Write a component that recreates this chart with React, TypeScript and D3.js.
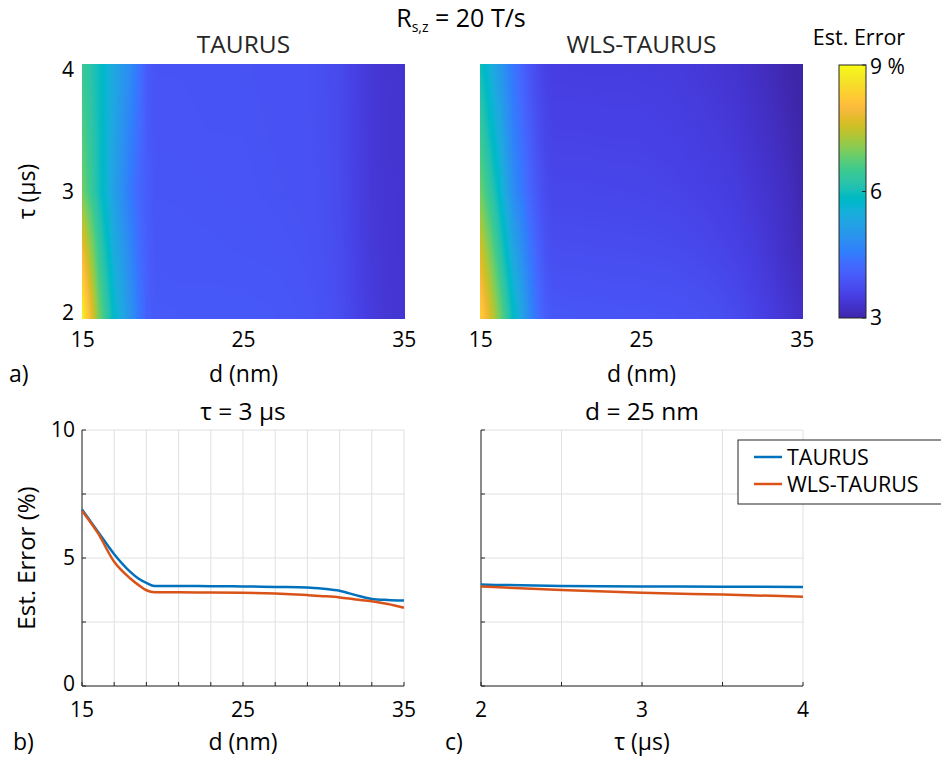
import React, { useMemo } from "react";
import * as d3 from "d3";

// Simulation grid: film thickness d (nm) and pulse duration tau (µs)
const D_GRID = [15, 16, 17, 18, 18.5, 19, 19.5, 21, 23, 25, 27, 29, 30, 31, 32, 33, 34, 35];
const TAU_GRID = [2, 2.5, 3, 3.5, 4];

// Estimated error (%) for each tau row over the d grid
const TAURUS_ERR = [
  [8.8, 6.9, 5.7, 4.9, 4.45, 4.08, 3.97, 3.96, 3.96, 3.96, 3.94, 3.9, 3.85, 3.76, 3.6, 3.45, 3.38, 3.35],
  [7.9, 6.45, 5.4, 4.7, 4.32, 4.05, 3.93, 3.92, 3.92, 3.91, 3.9, 3.87, 3.82, 3.74, 3.57, 3.42, 3.37, 3.34],
  [6.9, 6.02, 5.15, 4.46, 4.2, 4.03, 3.91, 3.91, 3.9, 3.89, 3.87, 3.85, 3.8, 3.72, 3.55, 3.4, 3.36, 3.34],
  [6.65, 5.98, 5.22, 4.6, 4.3, 4.0, 3.89, 3.89, 3.88, 3.88, 3.86, 3.84, 3.79, 3.71, 3.54, 3.4, 3.35, 3.33],
  [6.45, 5.95, 5.3, 4.75, 4.4, 3.98, 3.88, 3.88, 3.87, 3.87, 3.85, 3.83, 3.78, 3.7, 3.53, 3.39, 3.34, 3.32],
];
const WLS_ERR = [
  [8.3, 7.1, 5.85, 4.8, 4.35, 4.05, 3.93, 3.91, 3.9, 3.89, 3.87, 3.82, 3.77, 3.7, 3.6, 3.48, 3.37, 3.24],
  [7.6, 6.5, 5.35, 4.5, 4.15, 3.88, 3.78, 3.77, 3.76, 3.75, 3.73, 3.67, 3.62, 3.56, 3.47, 3.37, 3.25, 3.13],
  [6.85, 5.96, 4.85, 4.2, 3.95, 3.74, 3.66, 3.66, 3.65, 3.64, 3.61, 3.55, 3.51, 3.46, 3.38, 3.31, 3.2, 3.06],
  [6.4, 5.55, 4.62, 4.05, 3.82, 3.65, 3.58, 3.58, 3.57, 3.57, 3.53, 3.47, 3.43, 3.38, 3.3, 3.22, 3.12, 3.0],
  [6.0, 5.2, 4.45, 3.92, 3.72, 3.57, 3.51, 3.5, 3.5, 3.49, 3.46, 3.4, 3.36, 3.31, 3.23, 3.15, 3.05, 2.95],
];

const SERIES = ["TAURUS", "WLS-TAURUS"];
const SERIES_COLORS = ["#0072BD", "#D95319"];
const SLICE_TAU = 3;
const SLICE_D = 25;

const D_TICKS = [15, 25, 35];
const D_MINOR = [15, 17, 19, 21, 23, 25, 27, 29, 31, 33, 35];
const TAU_TICKS = [2, 3, 4];
const TAU_MINOR = [2, 2.5, 3, 3.5, 4];
const ERR_TICKS = [0, 5, 10];
const ERR_MINOR = [0, 2.5, 5, 7.5, 10];
const CBAR_TICKS = [3, 6, 9];

// parula colormap, 64 entries
const PARULA: number[][] = [
  [0.2422, 0.1504, 0.6603], [0.2504, 0.165, 0.7076], [0.2578, 0.1818, 0.7511], [0.2647, 0.1978, 0.7952],
  [0.2706, 0.2147, 0.8364], [0.2751, 0.2342, 0.871], [0.2783, 0.2559, 0.8991], [0.2803, 0.2782, 0.9221],
  [0.2813, 0.3006, 0.9414], [0.281, 0.3228, 0.9579], [0.2795, 0.3447, 0.9717], [0.276, 0.3667, 0.9829],
  [0.2699, 0.3892, 0.9906], [0.2602, 0.4123, 0.9952], [0.244, 0.4358, 0.9988], [0.2206, 0.4603, 0.9973],
  [0.1963, 0.4847, 0.9892], [0.1834, 0.5074, 0.9798], [0.1786, 0.5289, 0.9682], [0.1764, 0.5499, 0.952],
  [0.1687, 0.5703, 0.9359], [0.154, 0.5902, 0.9218], [0.146, 0.6091, 0.9079], [0.138, 0.6276, 0.8973],
  [0.1248, 0.6459, 0.8883], [0.1113, 0.6635, 0.8763], [0.0952, 0.6798, 0.8598], [0.0689, 0.6948, 0.8394],
  [0.0297, 0.7082, 0.8163], [0.0036, 0.7203, 0.7917], [0.0067, 0.7312, 0.766], [0.0433, 0.7411, 0.7394],
  [0.0964, 0.75, 0.712], [0.1408, 0.7584, 0.6842], [0.1717, 0.767, 0.6554], [0.1938, 0.7758, 0.6251],
  [0.2161, 0.7843, 0.5923], [0.247, 0.7918, 0.5567], [0.2906, 0.7973, 0.5188], [0.3406, 0.8008, 0.4789],
  [0.3909, 0.8029, 0.4354], [0.4456, 0.8024, 0.3909], [0.5044, 0.7993, 0.348], [0.5616, 0.7942, 0.3045],
  [0.6174, 0.7876, 0.2612], [0.672, 0.7793, 0.2227], [0.7242, 0.7698, 0.191], [0.7738, 0.7598, 0.1646],
  [0.8203, 0.7498, 0.1535], [0.8634, 0.7406, 0.1596], [0.9035, 0.733, 0.1774], [0.9393, 0.7288, 0.21],
  [0.9728, 0.7298, 0.2394], [0.9956, 0.7434, 0.2371], [0.997, 0.7659, 0.2199], [0.9952, 0.7893, 0.2028],
  [0.9892, 0.8136, 0.1885], [0.9786, 0.8386, 0.1766], [0.9676, 0.8639, 0.1643], [0.961, 0.889, 0.1537],
  [0.9597, 0.9135, 0.1423], [0.9628, 0.9373, 0.1265], [0.9691, 0.9606, 0.1064], [0.9769, 0.9839, 0.0805],
];

const C_MIN = 3;
const C_MAX = 9;
const parulaHex = PARULA.map((c) => d3.rgb(c[0] * 255, c[1] * 255, c[2] * 255).formatHex());
const colorScale = d3
  .scaleLinear<string>()
  .domain(parulaHex.map((_, i) => C_MIN + ((C_MAX - C_MIN) * i) / (parulaHex.length - 1)))
  .range(parulaHex)
  .interpolate(d3.interpolateRgb)
  .clamp(true);

const FONT = "'Open Sans', 'Noto Sans', sans-serif";
const INK = "#262626";
const GRID = "#E0E0E0";
const TICK_FS = 21;
const LABEL_FS = 23;
const TITLE_FS = 24.5;

// layout
const HM_TOP = 64;
const HM_BOTTOM = 319;
const HM_LEFT = [82, 480];
const HM_WIDTH = 323;
const CB = { x: 839, y0: 65, y1: 318, w: 27 };
const LP_TOP = 430;
const LP_BOTTOM = 686;
const LP_LEFT = [82, 481];
const LP_WIDTH = 322;

const dIndex = d3.scaleLinear().domain(D_GRID).range(D_GRID.map((_, i) => i)).clamp(true);
const tIndex = d3.scaleLinear().domain(TAU_GRID).range(TAU_GRID.map((_, i) => i)).clamp(true);

function sample(grid: number[][], d: number, t: number) {
  const fi = dIndex(d);
  const fj = tIndex(t);
  const i0 = Math.min(Math.floor(fi), D_GRID.length - 2);
  const j0 = Math.min(Math.floor(fj), TAU_GRID.length - 2);
  const u = fi - i0;
  const v = fj - j0;
  const a = grid[j0][i0] * (1 - u) + grid[j0][i0 + 1] * u;
  const b = grid[j0 + 1][i0] * (1 - u) + grid[j0 + 1][i0 + 1] * u;
  return a * (1 - v) + b * v;
}

function heatmapImage(grid: number[][], x: d3.ScaleLinear<number, number>, y: d3.ScaleLinear<number, number>) {
  const [px0, px1] = x.range();
  const [py1, py0] = y.range();
  const w = Math.round(px1 - px0);
  const h = Math.round(py1 - py0);
  const canvas = document.createElement("canvas");
  canvas.width = w;
  canvas.height = h;
  const ctx = canvas.getContext("2d");
  if (!ctx) return "";
  const img = ctx.createImageData(w, h);
  for (let r = 0; r < h; r++) {
    const t = y.invert(py0 + r + 0.5);
    for (let c = 0; c < w; c++) {
      const d = x.invert(px0 + c + 0.5);
      const col = d3.rgb(colorScale(sample(grid, d, t)));
      const k = (r * w + c) * 4;
      img.data[k] = col.r;
      img.data[k + 1] = col.g;
      img.data[k + 2] = col.b;
      img.data[k + 3] = 255;
    }
  }
  ctx.putImageData(img, 0, 0);
  return canvas.toDataURL();
}

function Heatmap({ idx, grid, title, showY, tag }: { idx: number; grid: number[][]; title: string; showY: boolean; tag?: string }) {
  const x0 = HM_LEFT[idx];
  const x = d3.scaleLinear().domain([14.95, 35.05]).range([x0, x0 + HM_WIDTH]);
  const y = d3.scaleLinear().domain([1.95, 4.05]).range([HM_BOTTOM, HM_TOP]);
  const href = useMemo(() => heatmapImage(grid, x, y), [grid, x0]);
  const cx = x0 + HM_WIDTH / 2;
  return (
    <g>
      <image href={href} x={x0} y={HM_TOP} width={HM_WIDTH} height={HM_BOTTOM - HM_TOP} preserveAspectRatio="none" />
      <text x={cx} y={53} textAnchor="middle" fontSize={TITLE_FS} fill={INK}>{title}</text>
      {D_TICKS.map((t) => (
        <text key={t} x={x(t)} y={347} textAnchor="middle" fontSize={TICK_FS} fill="#000">{t}</text>
      ))}
      {showY &&
        TAU_TICKS.map((t) => (
          <text key={t} x={74} y={y(t)} dy="0.35em" textAnchor="end" fontSize={TICK_FS} fill="#000">{t}</text>
        ))}
      {showY && (
        <text transform={`translate(35,${(HM_TOP + HM_BOTTOM) / 2}) rotate(-90)`} textAnchor="middle" fontSize={LABEL_FS} fill="#000">τ (µs)</text>
      )}
      <text x={cx} y={382} textAnchor="middle" fontSize={LABEL_FS} fill="#000">d (nm)</text>
      {tag && <text x={9} y={382} fontSize={LABEL_FS} fill="#000">{tag}</text>}
    </g>
  );
}

function Colorbar() {
  const y = d3.scaleLinear().domain([C_MIN, C_MAX]).range([CB.y1, CB.y0]);
  const stops = parulaHex.map((c, i) => ({ off: i / (parulaHex.length - 1), c }));
  return (
    <g>
      <defs>
        <linearGradient id="cbar" x1="0" y1="1" x2="0" y2="0">
          {stops.map((s, i) => (
            <stop key={i} offset={s.off} stopColor={s.c} />
          ))}
        </linearGradient>
      </defs>
      <rect x={CB.x} y={CB.y0} width={CB.w} height={CB.y1 - CB.y0} fill="url(#cbar)" stroke={INK} strokeWidth={1} />
      {CBAR_TICKS.map((t) => (
        <g key={t}>
          <line x1={CB.x + CB.w - 4} x2={CB.x + CB.w} y1={y(t)} y2={y(t)} stroke={INK} />
          <text x={CB.x + CB.w + 4} y={y(t) + (t === C_MAX ? 2 : 0)} dy="0.35em" fontSize={TICK_FS} fill="#000">
            {t === C_MAX ? `${t} %` : t}
          </text>
        </g>
      ))}
      <text x={859} y={45} textAnchor="middle" fontSize={21.5} fill="#000">Est. Error</text>
    </g>
  );
}

type Pt = [number, number];

function LinePanel({
  idx, title, xDomain, xTicks, xMinor, xLabel, series, showY, tag,
}: {
  idx: number; title: string; xDomain: [number, number]; xTicks: number[]; xMinor: number[]; xLabel: string;
  series: Pt[][]; showY: boolean; tag: string;
}) {
  const x0 = LP_LEFT[idx];
  const x = d3.scaleLinear().domain(xDomain).range([x0, x0 + LP_WIDTH]);
  const y = d3.scaleLinear().domain([0, 10]).range([LP_BOTTOM, LP_TOP]);
  const line = d3
    .line<Pt>()
    .x((p) => x(p[0]))
    .y((p) => y(p[1]))
    .curve(d3.curveMonotoneX);
  const cx = x0 + LP_WIDTH / 2;
  return (
    <g>
      {xMinor.map((t) => (
        <line key={`gx${t}`} x1={x(t)} x2={x(t)} y1={LP_TOP} y2={LP_BOTTOM} stroke={GRID} strokeWidth={1} />
      ))}
      {ERR_MINOR.map((t) => (
        <line key={`gy${t}`} x1={x0} x2={x0 + LP_WIDTH} y1={y(t)} y2={y(t)} stroke={GRID} strokeWidth={1} />
      ))}
      <line x1={x0} x2={x0} y1={LP_TOP} y2={LP_BOTTOM} stroke={INK} strokeWidth={1} />
      <line x1={x0} x2={x0 + LP_WIDTH} y1={LP_BOTTOM} y2={LP_BOTTOM} stroke={INK} strokeWidth={1} />
      {xMinor.map((t) => (
        <line key={`tx${t}`} x1={x(t)} x2={x(t)} y1={LP_BOTTOM} y2={LP_BOTTOM - 4} stroke={INK} />
      ))}
      {ERR_MINOR.map((t) => (
        <line key={`ty${t}`} x1={x0} x2={x0 + 4} y1={y(t)} y2={y(t)} stroke={INK} />
      ))}
      {series.map((s, i) => (
        <path key={i} d={line(s) || ""} fill="none" stroke={SERIES_COLORS[i]} strokeWidth={2.5} />
      ))}
      <text x={cx} y={420} textAnchor="middle" fontSize={TITLE_FS} fill="#000">{title}</text>
      {xTicks.map((t) => (
        <text key={t} x={x(t)} y={717} textAnchor="middle" fontSize={TICK_FS} fill="#000">{t}</text>
      ))}
      {showY &&
        ERR_TICKS.map((t) => (
          <text key={t} x={75} y={y(t) - (t === 0 ? 2 : 0)} dy="0.35em" textAnchor="end" fontSize={TICK_FS} fill="#000">{t}</text>
        ))}
      {showY && (
        <text transform={`translate(35,${(LP_TOP + LP_BOTTOM) / 2}) rotate(-90)`} textAnchor="middle" fontSize={24} fill="#000">
          Est. Error (%)
        </text>
      )}
      <text x={cx} y={750} textAnchor="middle" fontSize={LABEL_FS} fill="#000">{xLabel}</text>
      <text x={idx === 0 ? 13 : 445} y={750} fontSize={LABEL_FS} fill="#000">{tag}</text>
    </g>
  );
}

function Legend() {
  const x0 = 738;
  const y0 = 440;
  return (
    <g>
      <rect x={x0} y={y0} width={230} height={64} fill="#fff" stroke={INK} strokeWidth={1} />
      {SERIES.map((s, i) => (
        <g key={s}>
          <line x1={754} x2={782} y1={y0 + 17 + i * 27} y2={y0 + 17 + i * 27} stroke={SERIES_COLORS[i]} strokeWidth={2.5} />
          <text x={787} y={y0 + 17 + i * 27} dy="0.36em" fontSize={21.5} fill="#000">{s}</text>
        </g>
      ))}
    </g>
  );
}

export default function App() {
  const tauRow = TAU_GRID.indexOf(SLICE_TAU);
  const dCol = D_GRID.indexOf(SLICE_D);
  const alongD = [TAURUS_ERR, WLS_ERR].map((g) => D_GRID.map((d, i) => [d, g[tauRow][i]] as Pt));
  const alongTau = [TAURUS_ERR, WLS_ERR].map((g) => TAU_GRID.map((t, j) => [t, g[j][dCol]] as Pt));
  return (
    <svg
      width={941}
      height={760}
      viewBox="0 0 941 760"
      style={{ position: "fixed", left: 0, top: 0, background: "#fff", fontFamily: FONT }}
    >
      <text x={461} y={27} textAnchor="middle" fontSize={25} fill="#000">
        R<tspan fontSize={14} dy={5}>s,z</tspan>
        <tspan dy={-5}> = 20 T/s</tspan>
      </text>
      <Heatmap idx={0} grid={TAURUS_ERR} title="TAURUS" showY tag="a)" />
      <Heatmap idx={1} grid={WLS_ERR} title="WLS-TAURUS" showY={false} />
      <Colorbar />
      <LinePanel
        idx={0}
        title={`τ = ${SLICE_TAU} μs`}
        xDomain={[15, 35]}
        xTicks={D_TICKS}
        xMinor={D_MINOR}
        xLabel="d (nm)"
        series={alongD}
        showY
        tag="b)"
      />
      <LinePanel
        idx={1}
        title={`d = ${SLICE_D} nm`}
        xDomain={[2, 4]}
        xTicks={TAU_TICKS}
        xMinor={TAU_MINOR}
        xLabel="τ (μs)"
        series={alongTau}
        showY={false}
        tag="c)"
      />
      <Legend />
    </svg>
  );
}
